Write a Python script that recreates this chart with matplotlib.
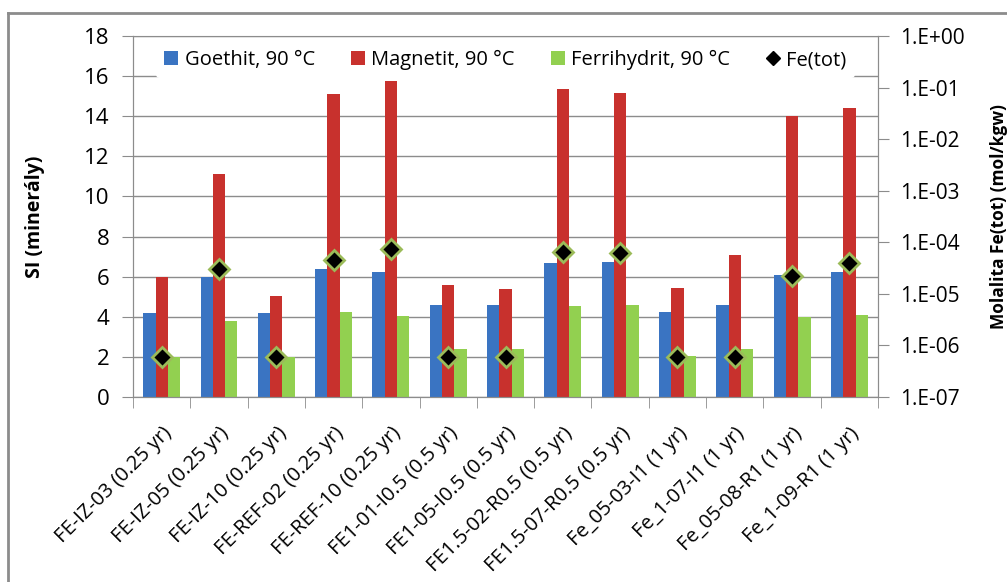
import numpy as np
import matplotlib
matplotlib.use("Agg")
import matplotlib.pyplot as plt
from matplotlib.lines import Line2D
from matplotlib.ticker import FixedLocator, FuncFormatter, NullLocator

plt.rcParams['font.family'] = ['Open Sans', 'DejaVu Sans']

samples = ["FE-IZ-03 (0.25 yr)", "FE-IZ-05 (0.25 yr)", "FE-IZ-10 (0.25 yr)",
           "FE-REF-02 (0.25 yr)", "FE-REF-10 (0.25 yr)", "FE1-01-I0.5 (0.5 yr)",
           "FE1-05-I0.5 (0.5 yr)", "FE1.5-02-R0.5 (0.5 yr)", "FE1.5-07-R0.5 (0.5 yr)",
           "Fe_05-03-I1 (1 yr)", "Fe_1-07-I1 (1 yr)", "Fe_05-08-R1 (1 yr)",
           "Fe_1-09-R1 (1 yr)"]
goethit = [4.2, 6.0, 4.2, 6.4, 6.25, 4.6, 4.6, 6.67, 6.72, 4.25, 4.6, 6.1, 6.22]
magnetit = [6.0, 11.1, 5.05, 15.1, 15.75, 5.6, 5.4, 15.37, 15.15, 5.45, 7.1, 14.02, 14.42]
ferrihydrit = [2.0, 3.8, 2.0, 4.25, 4.05, 2.4, 2.4, 4.55, 4.6, 2.05, 2.4, 4.0, 4.1]
fe_tot = [6.0e-7, 3.0e-5, 6.0e-7, 4.6e-5, 7.5e-5, 6.0e-7, 6.0e-7, 6.5e-5, 6.1e-5,
          6.0e-7, 6.0e-7, 2.2e-5, 4.0e-5]

fig = plt.figure(figsize=(10.07, 5.82), dpi=100)
ax = fig.add_axes([0.1321, 0.3179, 0.7398, 0.6203])
ax2 = ax.twinx()

x = np.arange(len(samples))
w = 0.215
ax.bar(x - w, goethit, w, color="#3a74c2", label="Goethit, 90 °C", zorder=2)
ax.bar(x, magnetit, w, color="#c8312d", label="Magnetit, 90 °C", zorder=2)
ax.bar(x + w, ferrihydrit, w, color="#92d050", label="Ferrihydrit, 90 °C", zorder=2)
ax2.plot(x, fe_tot, linestyle="none", marker="D", markersize=10,
         markerfacecolor="black", markeredgecolor="#9bbb59", markeredgewidth=2,
         label="Fe(tot)", zorder=3)

ax.set_xlim(-0.5, len(samples) - 0.5)
ax.set_ylim(0, 18)
ax.set_yticks(np.arange(0, 19, 2))
ax.grid(axis="y", color="#8c8c8c", linewidth=1, zorder=0)
ax.set_axisbelow(True)

ax.set_xticks(x)
ax.set_xticklabels(samples, rotation=45, ha="right", rotation_mode="anchor", fontsize=14.5)
ax.xaxis.set_minor_locator(FixedLocator(np.arange(-0.5, len(samples), 1)))
ax.tick_params(axis="x", which="major", length=0, pad=19)
ax.tick_params(axis="x", which="minor", length=8, color="#8c8c8c")
ax.tick_params(axis="y", length=8, color="#8c8c8c", pad=9, labelsize=16)

ax2.set_yscale("log")
ax2.set_ylim(1e-7, 1)
ax2.yaxis.set_major_locator(FixedLocator([10.0 ** k for k in range(-7, 1)]))
ax2.yaxis.set_minor_locator(NullLocator())
ax2.yaxis.set_major_formatter(FuncFormatter(lambda v, p: "1.E%+03d" % round(np.log10(v))))
ax2.tick_params(axis="y", length=8, color="#8c8c8c", pad=8, labelsize=15)

for a in (ax, ax2):
    for s in a.spines.values():
        s.set_color("#8c8c8c")
ax2.spines["top"].set_visible(False)

ax.set_ylabel("SI (minerály)", fontsize=14, fontweight="bold")
ax.yaxis.set_label_coords(-0.118, 0.5)
ax2.set_ylabel("Molalita Fe(tot) (mol/kgw)", fontsize=12.5, fontweight="bold")
ax2.yaxis.set_label_coords(1.151, 0.5)

h1, l1 = ax.get_legend_handles_labels()
h2 = [Line2D([], [], linestyle="none", marker="D", markersize=7, color="black")]
leg = ax2.legend(h1 + h2, l1 + ["Fe(tot)"], loc="upper center", bbox_to_anchor=(0.5, 1.0),
                 ncol=4, frameon=True, fontsize=14.5, handlelength=0.7, handleheight=0.7,
                 handletextpad=0.3, columnspacing=1.8, borderaxespad=0.3)
leg.get_frame().set_edgecolor("none")
leg.get_frame().set_facecolor("white")
leg.get_frame().set_alpha(1)

# chart frame
fig.add_artist(Line2D([0.008, 0.008], [0.0, 0.978], color="#8c8c8c", linewidth=2))
fig.add_artist(Line2D([0.008, 1.0], [0.978, 0.978], color="#8c8c8c", linewidth=2))

fig.savefig("out.png", dpi=100)
